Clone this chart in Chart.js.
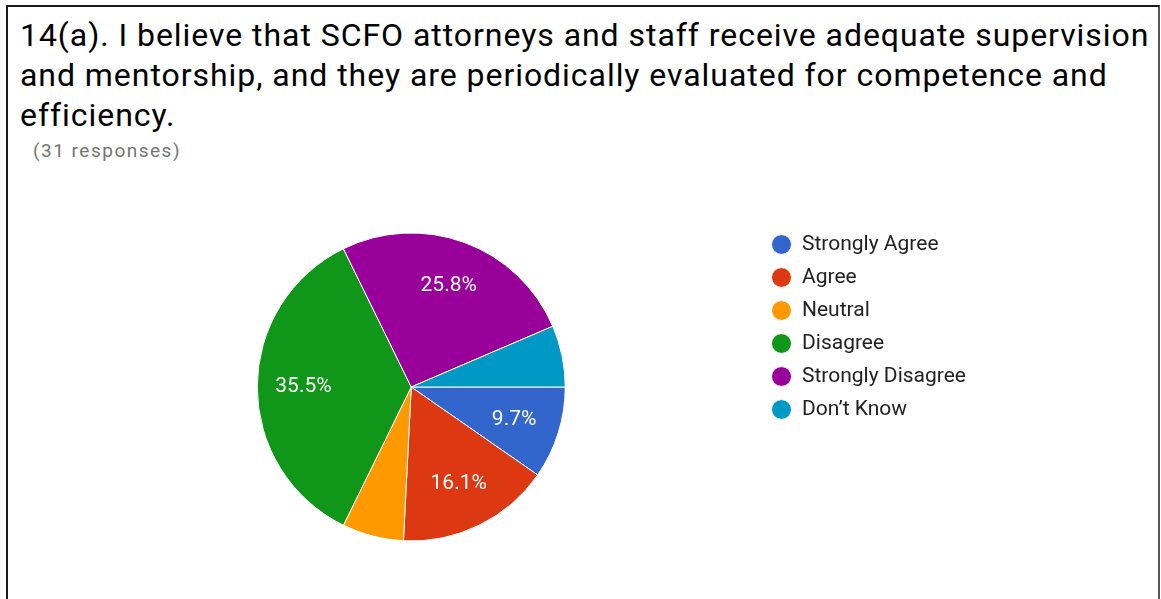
<!DOCTYPE html>
<html>
<head>
<meta charset="utf-8">
<script src="https://cdn.jsdelivr.net/npm/chart.js@4/dist/chart.umd.min.js"></script>
<style>
  html, body { margin: 0; padding: 0; background: #fff; }
  body { width: 1161px; height: 599px; position: relative; overflow: hidden; font-family: Roboto, Arial, sans-serif; }
  .frame { position: absolute; left: 6px; top: 5px; width: 1150px; height: 620px; border: 2px solid #1a1a1a; border-right-color: #555; border-bottom: none; }
  .title { position: absolute; left: 20px; top: 15px; width: 1140px; font-size: 32px; letter-spacing: 0.95px; line-height: 40px; color: #000; }
  .sub { position: absolute; left: 33px; top: 139px; font-size: 19px; letter-spacing: 1.5px; color: #757575; }
  #chartBox { position: absolute; left: 0; top: 0; width: 1161px; height: 599px; }
</style>
</head>
<body>
<div class="frame"></div>
<div class="title">14(a). I believe that SCFO attorneys and staff receive adequate supervision and mentorship, and they are periodically evaluated for competence and efficiency.</div>
<div class="sub">(31 responses)</div>
<div id="chartBox"><canvas id="pie"></canvas></div>
<script>
const labels = ['Strongly Agree', 'Agree', 'Neutral', 'Disagree', 'Strongly Disagree', 'Don’t Know'];
const counts = [3, 5, 2, 11, 8, 2];
const colors = ['#3366cc', '#dc3912', '#ff9900', '#109618', '#990099', '#0099c6'];

// percentage text inside the bigger slices
const sliceLabels = {
  id: 'sliceLabels',
  afterDatasetsDraw(chart) {
    const { ctx } = chart;
    const total = counts.reduce((a, b) => a + b, 0);
    chart.getDatasetMeta(0).data.forEach((arc, i) => {
      const share = counts[i] / total;
      if (share < 0.08) return;
      const mid = (arc.startAngle + arc.endAngle) / 2;
      const r = arc.outerRadius * 0.7;
      ctx.save();
      ctx.fillStyle = '#fff';
      ctx.font = '21px Roboto, Arial, sans-serif';
      ctx.textAlign = 'center';
      ctx.textBaseline = 'middle';
      ctx.fillText((share * 100).toFixed(1) + '%', arc.x + Math.cos(mid) * r, arc.y + Math.sin(mid) * r);
      ctx.restore();
    });
  },
};

new Chart(document.getElementById('pie'), {
  type: 'pie',
  data: {
    labels,
    datasets: [{
      data: counts,
      backgroundColor: colors,
      borderColor: '#fff',
      borderWidth: 1,
    }],
  },
  options: {
    responsive: true,
    maintainAspectRatio: false,
    animation: false,
    rotation: 90,
    radius: 154,
    layout: { padding: { left: 63, top: 222, right: 185, bottom: 47 } },
    plugins: {
      tooltip: { enabled: false },
      legend: {
        position: 'right',
        align: 'start',
        labels: {
          usePointStyle: true,
          pointStyle: 'circle',
          pointStyleWidth: 20,
          boxHeight: 14,
          padding: 12,
          color: '#222',
          font: { family: 'Roboto, Arial, sans-serif', size: 21 },
        },
      },
    },
  },
  plugins: [sliceLabels],
});
</script>
</body>
</html>
